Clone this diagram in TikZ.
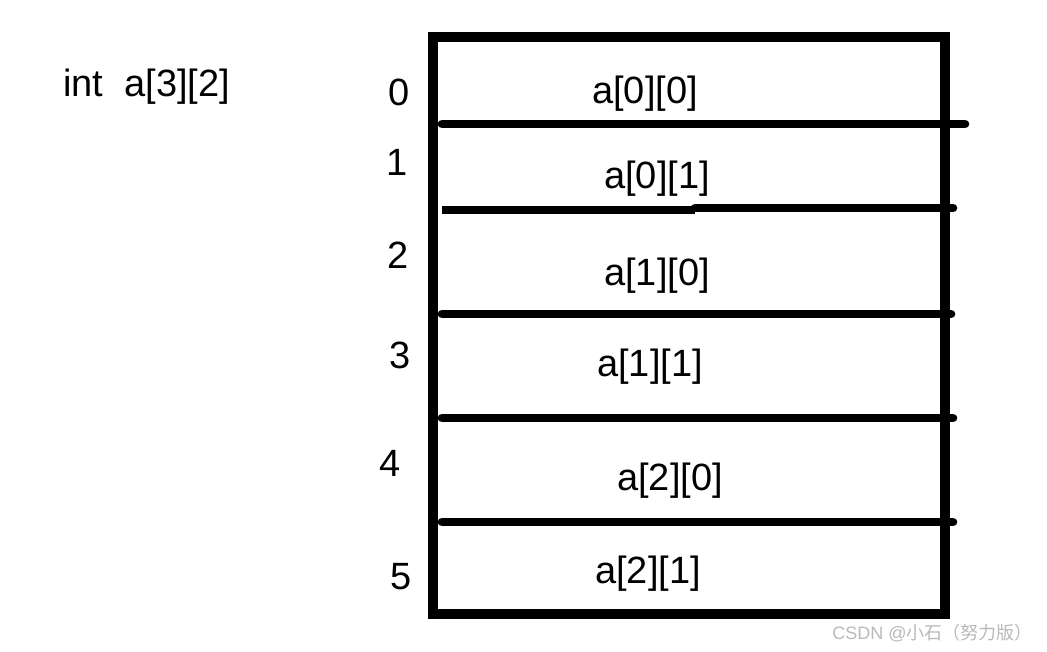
\documentclass[tikz,border=0pt]{standalone}
\usepackage{fontspec}
\setmainfont{Liberation Sans}
\newfontfamily\cjk{Noto Sans CJK SC}
\definecolor{markgray}{RGB}{185,185,185}
\begin{document}
\begin{tikzpicture}[x=0.75pt, y=-0.75pt]
	\useasboundingbox (0,0) rectangle (1047,651);

	% memory block and the row separators
	\draw[line width=6.8pt] (433,37) rectangle (945,614);
	\begin{scope}[line width=6.5pt, line cap=round]
		\coordinate (l1) at (442,124);  \coordinate (r1) at (965,124);
		\coordinate (l2) at (442,210);  \coordinate (m2) at (695,210);
		\coordinate (n2) at (695,208);  \coordinate (r2) at (953,208);
		\coordinate (l3) at (442,314);  \coordinate (r3) at (951,314);
		\coordinate (l4) at (442,418);  \coordinate (r4) at (953,418);
		\coordinate (l5) at (442,522);  \coordinate (r5) at (953,522);
		\draw (l1) -- (r1);
		\draw[line cap=butt] (l2) -- (m2);
		\draw (n2) -- (r2);
		\draw (l3) -- (r3);
		\draw (l4) -- (r4);
		\draw (l5) -- (r5);
	\end{scope}

	\begin{scope}[every node/.style={font=\fontsize{28.5}{30}\selectfont, inner sep=0pt}]
		\node (decl) [anchor=west] at (63,87) {int\ \ a[3][2]};
		\node (i0) at (399,92) {0};
		\node (i1) at (397,162) {1};
		\node (i2) at (398,255) {2};
		\node (i3) at (400,355) {3};
		\node (i4) at (390,463) {4};
		\node (i5) at (401,577) {5};
		\node (a00) at (645,94) {a[0][0]};
		\node (a01) at (657,179) {a[0][1]};
		\node (a10) at (657,276) {a[1][0]};
		\node (a11) at (650,367) {a[1][1]};
		\node (a20) at (670,481) {a[2][0]};
		\node (a21) at (648,574) {a[2][1]};
	\end{scope}

	\node (mark) [anchor=east, inner sep=0pt, text=markgray, font=\fontsize{13.5}{15}\selectfont]
		at (1033,633) {CSDN @{\cjk 小石（努力版）}};
\end{tikzpicture}
\end{document}
